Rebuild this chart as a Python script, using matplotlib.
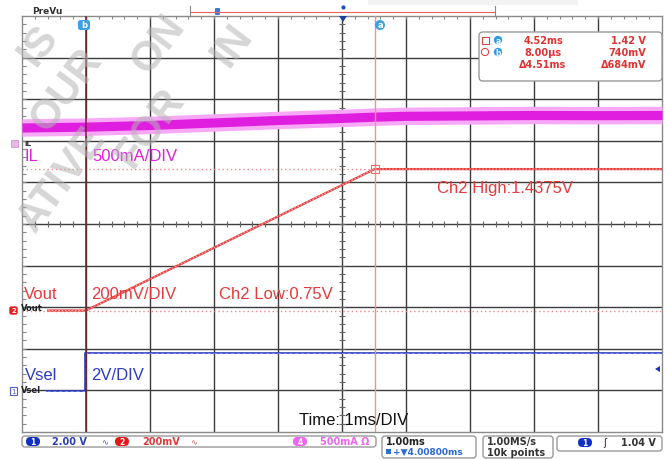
import numpy as np
import matplotlib
matplotlib.use('Agg')
import matplotlib.pyplot as plt
from matplotlib.patches import FancyBboxPatch, Rectangle, Circle, Polygon

# ---------------- data ----------------
# time axis: 1 ms / div, trigger (t = 0) near the 1st division
il_t_ms = [-0.99, 0.0, 1.0, 2.0, 3.0, 4.0, 4.5, 5.0, 6.0, 7.0, 8.0, 9.01]
il_a = [0.20, 0.21, 0.23, 0.26, 0.29, 0.315, 0.33, 0.34, 0.345, 0.35, 0.348, 0.35]
vout_t_ms = [-0.58, 0.008, 4.52, 9.01]
vout_v = [0.74, 0.74, 1.42, 1.42]
vsel_t_ms = [-0.6, 0.0, 0.0, 9.01]
vsel_v = [0.0, 0.0, 1.8, 1.8]

cursor_a_ms = 4.52
cursor_b_ms = 0.008
readout_rows = [("4.52ms", "1.42 V"), ("8.00µs", "740mV"), ("Δ4.51ms", "Δ684mV")]

# channel scales (per division) and on-screen offsets (divisions)
t0_div = 0.99
il_scale, il_ref = 0.5, 6.92
vout_scale, vout_ref, vout_ref_v = 0.2, 2.92, 0.74
vsel_scale, vsel_ref = 2.0, 0.99

W, H = 666, 460
fig = plt.figure(figsize=(W / 100, H / 100), dpi=100)
fig.patch.set_facecolor('white')

L, R, T, B = 22, 662, 17, 433
ax = fig.add_axes([L / W, 1 - B / H, (R - L) / W, (B - T) / H])
ax.set_xlim(0, 10)
ax.set_ylim(0, 10)
ax.set_xticks([])
ax.set_yticks([])
for s in ax.spines.values():
    s.set_color('#8a8a8a')
    s.set_linewidth(1.0)

GRID = '#3c3c3c'
for i in range(1, 10):
    ax.axvline(i, color=GRID, lw=1.0, zorder=1)
    ax.axhline(i, color=GRID, lw=1.0, zorder=1)
# minor ticks on centre lines and edges
mt = np.arange(0.2, 10, 0.2)
ax.plot(mt, np.full_like(mt, 5), ls='none', marker='|', ms=4, mew=0.8, color='#666666', zorder=1)
ax.plot(np.full_like(mt, 5), mt, ls='none', marker='_', ms=4, mew=0.8, color='#666666', zorder=1)
ax.plot(mt, np.full_like(mt, 9.97), ls='none', marker='|', ms=3, mew=0.8, color='#888888', zorder=1)
ax.plot(np.full_like(mt, 0.03), mt, ls='none', marker='_', ms=3, mew=0.8, color='#888888', zorder=1)

RED = '#e83a3a'
MAG = '#e01ee0'
BLUE = '#2c3cc4'

# IL band
ilx = np.array(il_t_ms) + t0_div
ily = il_ref + np.array(il_a) / il_scale
ax.fill_between(ilx, ily - 0.21, ily + 0.21, color='#f7a8f7', lw=0, zorder=3)
ax.fill_between(ilx, ily - 0.11, ily + 0.11, color=MAG, lw=0, zorder=3)

# Vout
vx = np.array(vout_t_ms) + t0_div
vy = vout_ref + (np.array(vout_v) - vout_ref_v) / vout_scale
ax.axhline(vy[0], color='#f08a8a', lw=1.0, ls=(0, (1, 2)), zorder=2)
ax.axhline(vy[-1], color='#f08a8a', lw=1.0, ls=(0, (1, 2)), zorder=2)
ax.plot(vx, vy, color=RED, lw=1.6, zorder=4)
ax.plot(vx, vy, color='#f7b0b0', lw=0.8, ls=(0, (1.5, 1.5)), zorder=4)

# Vsel
sx = np.array(vsel_t_ms) + t0_div
sy = vsel_ref + np.array(vsel_v) / vsel_scale
ax.plot(sx, sy, color=BLUE, lw=1.2, zorder=4)
ax.plot(sx, sy, color='#7f8be0', lw=0.7, ls=(0, (3, 3)), zorder=4)

# cursors
ax.axvline(cursor_b_ms + t0_div, color='#7a1f2e', lw=1.1, zorder=5)
ax.axvline(cursor_a_ms + t0_div, color='#f29090', lw=1.0, zorder=5)
ax.plot([cursor_a_ms + t0_div], [vy[-1]], marker='s', ms=6, mfc='none', mec='#f07070', mew=0.8, zorder=6)

# --------------- overlay in pixel coordinates ---------------
ov = fig.add_axes([0, 0, 1, 1])
ov.set_xlim(0, W)
ov.set_ylim(H, 0)
ov.axis('off')
ov.set_zorder(5)

FONT = 'Liberation Sans'
lab = dict(fontsize=12, family=FONT, va='center', ha='left')
ov.text(25, 157, 'IL', color=MAG, **lab)
ov.text(92, 157, '500mA/DIV', color=MAG, **lab)
ov.text(24, 295, 'Vout', color=RED, **lab)
ov.text(91, 295, '200mV/DIV', color=RED, **lab)
ov.text(219, 295, 'Ch2 Low:0.75V', color=RED, **lab)
ov.text(437, 189, 'Ch2 High:1.4375V', color=RED, **lab)
ov.text(25, 376, 'Vsel', color=BLUE, **lab)
ov.text(91, 376, '2V/DIV', color=BLUE, **lab)
ov.text(299, 421, 'Time: 1ms/DIV', color='#111111', **lab)

# ground markers on the left
ov.add_patch(Rectangle((11, 141), 7, 7, fc='#e8b8e8', ec='#d090d0', lw=0.6))
ov.text(24, 144, 'IL', fontsize=5, color='#333333', fontweight='bold', va='center')
ov.add_patch(FancyBboxPatch((10, 308), 7, 7, boxstyle='round,pad=0,rounding_size=1.5', fc='#e02020', ec='#e02020'))
ov.text(13.5, 311.5, '2', fontsize=5, color='white', fontweight='bold', ha='center', va='center')
ov.text(21, 309, 'Vout', fontsize=6, color='#222222', fontweight='bold', va='center')
ov.add_patch(Rectangle((10, 388), 7, 8, fc='white', ec='#5060d0', lw=0.8))
ov.text(13.5, 392, '1', fontsize=5, color='#5060d0', ha='center', va='center')
ov.text(21, 391, 'Vsel', fontsize=6, color='#222222', fontweight='bold', va='center')

# right trigger level arrow
ov.add_patch(Polygon([[655, 370], [660, 367], [660, 373]], closed=True, fc='#2030c0', ec='none'))

# top bar
ov.text(32, 11, 'PreVu', fontsize=6.5, color='#333333', fontweight='bold', va='center')
ov.plot([190, 495], [12.5, 12.5], color='#e86060', lw=0.8)
ov.plot([190, 190], [7, 17], color='#888888', lw=0.8)
ov.plot([495, 495], [7, 17], color='#888888', lw=0.8)
ov.add_patch(FancyBboxPatch((215, 9), 5, 7, boxstyle='round,pad=0,rounding_size=1', fc='#3a7ad8', ec='none'))
ov.plot([343], [8], marker='o', ms=2, color='#2050c0')
ov.add_patch(Polygon([[339, 17], [347, 17], [343, 23]], closed=True, fc='#1a40a0', ec='none'))
ov.add_patch(Rectangle((368, 0), 210, 6, fc='#f2f2f2', ec='none'))

# cursor tags
ov.add_patch(FancyBboxPatch((78, 21), 12, 10, boxstyle='round,pad=0,rounding_size=2.5', fc='#3fa0e8', ec='none'))
ov.text(84, 26, 'b', fontsize=6, color='white', fontweight='bold', ha='center', va='center')
ov.add_patch(Circle((380, 26), 5, fc='#3fa0e8', ec='none'))
ov.text(380, 26, 'a', fontsize=6, color='white', fontweight='bold', ha='center', va='center')

# readout box
ov.add_patch(FancyBboxPatch((479, 33), 183, 49, boxstyle='round,pad=0,rounding_size=4', fc='white', ec='#9a9a9a', lw=1.0))
RO = '#e03434'
for k, (a_txt, b_txt) in enumerate(readout_rows):
    y = 41.5 + k * 11.5
    ov.text(543, y, a_txt, fontsize=7, color=RO, fontweight='bold', ha='center', va='center')
    ov.text(646, y, b_txt, fontsize=7, color=RO, fontweight='bold', ha='right', va='center')
ov.add_patch(Rectangle((481.5, 37.5), 7, 7, fc='none', ec=RO, lw=0.7))
ov.add_patch(Circle((485, 53), 3.6, fc='none', ec=RO, lw=0.7))
for yy, ch in [(41, 'a'), (53, 'b')]:
    ov.add_patch(Circle((498, yy), 4.2, fc='#2f9ae6', ec='none'))
    ov.text(498, yy, ch, fontsize=5.5, color='white', fontweight='bold', ha='center', va='center')

# bottom status bar
def box(x0, y0, x1, y1):
    ov.add_patch(FancyBboxPatch((x0, y0), x1 - x0, y1 - y0, boxstyle='round,pad=0,rounding_size=3',
                                fc='white', ec='#9a9a9a', lw=1.0))

def pill(xc, yc, txt, col):
    ov.add_patch(FancyBboxPatch((xc - 7, yc - 4.5), 14, 9, boxstyle='round,pad=0,rounding_size=4.5', fc=col, ec='none'))
    ov.text(xc, yc, txt, fontsize=5.5, color='white', fontweight='bold', ha='center', va='center')

bt = dict(fontsize=7, fontweight='bold', va='center', ha='left')
box(22, 437, 376, 448)
pill(33, 442.5, '1', '#1030c0')
ov.text(52, 442.5, '2.00 V', color='#2a3cc0', **bt)
ov.text(101, 442.5, '∿', color='#5060d0', fontsize=6, va='center')
pill(122, 442.5, '2', '#e01818')
ov.text(142, 442.5, '200mV', color='#e03a3a', **bt)
ov.text(190, 442.5, '∿', color='#e06060', fontsize=6, va='center')
pill(300, 442.5, '4', '#ee66ee')
ov.text(320, 442.5, '500mA Ω', color='#ee66ee', **bt)
box(382, 437, 476, 459)
ov.text(386, 442.5, '1.00ms', color='#222222', **bt)
ov.add_patch(Rectangle((386, 449.5), 5, 5, fc='#2a70d0', ec='none'))
ov.text(393, 452.5, '+▼4.00800ms', color='#2a6ad0', fontsize=6.5, fontweight='bold', va='center')
box(483, 437, 553, 459)
ov.text(487, 442.5, '1.00MS/s', color='#333333', **bt)
ov.text(487, 453, '10k points', color='#333333', **bt)
box(557, 437, 662, 452)
pill(585, 443.5, '1', '#1030c0')
ov.text(603, 443.5, 'ʃ', color='#222222', fontsize=7, va='center')
ov.text(656, 443.5, '1.04 V', color='#333333', fontsize=7, fontweight='bold', va='center', ha='right')

# watermark fragments
wm = dict(fontsize=30, family=FONT, fontweight='bold', color='#b4b4b4', alpha=0.55,
          rotation=53, rotation_mode='anchor', va='center', ha='center', zorder=20)
ov.text(38, 46, 'IS', **wm)
ov.text(158, 44, 'ON', **wm)
ov.text(66, 90, 'OUR', **wm)
ov.text(150, 128, 'FOR', **wm)
ov.text(232, 46, 'IN', **wm)
ov.text(62, 180, 'ATIVE', **wm)

fig.savefig('out.png', dpi=100, facecolor='white')
